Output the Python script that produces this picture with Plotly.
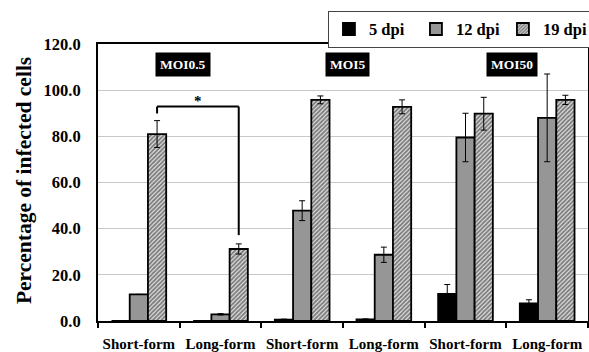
import plotly.graph_objects as go

categories = ["Short-form", "Long-form", "Short-form ", "Long-form ", "Short-form  ", "Long-form  "]
tick_labels = ["Short-form", "Long-form", "Short-form", "Long-form", "Short-form", "Long-form"]

dpi5 = [0, 0, 0.6, 0.7, 11.7, 7.6]
dpi5_err = [None, None, 0.2, 0.2, 4.1, 1.6]
dpi12 = [11.5, 2.9, 47.8, 28.7, 79.5, 88.0]
dpi12_err = [None, 0.3, 4.3, 3.3, 10.5, 19.0]
dpi19 = [81.0, 31.2, 95.8, 92.8, 89.8, 95.8]
dpi19_err = [5.8, 2.2, 1.7, 3.0, 7.1, 2.0]

moi_labels = ["MOI0.5", "MOI5", "MOI50"]
moi_x = [0.545, 2.56, 4.57]
moi_y = 111

sig_pair = (0, 1)
sig_top = 92.9
sig_left_end = 89.9
sig_right_end = 37.2

FONT = "Liberation Serif"
bargap = 0.33
bar_w = (1 - bargap) / 3

fig = go.Figure()
err_style = dict(type="data", color="black", thickness=1, width=3, visible=True)
line_style = dict(color="black", width=1.8)

fig.add_trace(go.Bar(name="5 dpi", x=categories, y=dpi5,
                     marker=dict(color="black", line=line_style),
                     error_y=dict(array=dpi5_err, **err_style)))
fig.add_trace(go.Bar(name="12 dpi", x=categories, y=dpi12,
                     marker=dict(color="#969696", line=line_style),
                     error_y=dict(array=dpi12_err, **err_style)))
fig.add_trace(go.Bar(name="19 dpi", x=categories, y=dpi19,
                     marker=dict(color="white", line=line_style,
                                 pattern=dict(shape="/", fgcolor="#111111", bgcolor="#e2e2e2",
                                              size=3, solidity=0.6)),
                     error_y=dict(array=dpi19_err, **err_style)))

# significance bracket between the 19 dpi bars of the first two categories
xl = sig_pair[0] + bar_w
xr = sig_pair[1] + bar_w
bline = dict(color="black", width=2)
fig.add_shape(type="line", xref="x", yref="y", x0=xl, x1=xr, y0=sig_top, y1=sig_top, line=bline)
fig.add_shape(type="line", xref="x", yref="y", x0=xl, x1=xl, y0=sig_top, y1=sig_left_end, line=bline)
fig.add_shape(type="line", xref="x", yref="y", x0=xr, x1=xr, y0=sig_top, y1=sig_right_end, line=bline)
fig.add_annotation(x=(xl + xr) / 2, y=sig_top, text="*", showarrow=False, yanchor="bottom",
                   font=dict(family=FONT, size=15, color="black", weight="bold"), yshift=-4)

for lab, mx in zip(moi_labels, moi_x):
    fig.add_annotation(x=mx, y=moi_y, xref="x", yref="y", text=lab, showarrow=False,
                       bgcolor="black", borderpad=4,
                       font=dict(family=FONT, size=13.5, color="white", weight="bold"))

# y axis title
fig.add_annotation(xref="paper", yref="paper", x=0, y=0.505, xshift=-74, textangle=-90,
                   xanchor="center", yanchor="middle",
                   text="Percentage of infected cells", showarrow=False,
                   font=dict(family=FONT, size=21.5, color="black", weight="bold"))

fig.update_layout(
    width=589, height=352,
    margin=dict(l=98, r=1, t=44, b=31, autoexpand=False),
    paper_bgcolor="white", plot_bgcolor="white",
    barmode="group", bargap=bargap, bargroupgap=0,
    font=dict(family=FONT, color="black"),
    showlegend=True,
    legend=dict(orientation="h", x=1.006, xanchor="right", y=1.12, yanchor="top",
                bordercolor="#444444", borderwidth=1, bgcolor="white",
                font=dict(family=FONT, size=16.5, color="black", weight="bold"),
                itemwidth=30, tracegroupgap=0, entrywidth=42),
)
fig.update_xaxes(
    type="category", tickvals=categories, ticktext=tick_labels, tickangle=0, automargin=False,
    showline=True, linecolor="black", linewidth=2, mirror=True,
    ticks="outside", tickson="boundaries", ticklen=5, tickwidth=2, tickcolor="black",
    ticklabelstandoff=8,
    tickfont=dict(family=FONT, size=15, color="black", weight="bold"),
    showgrid=False,
)
fig.update_yaxes(
    range=[0, 120], dtick=20, tickformat=".1f", automargin=False,
    showline=True, linecolor="black", linewidth=2, mirror=True,
    showgrid=True, gridcolor="#c8c8c8", gridwidth=1,
    ticks="", ticklabelstandoff=12,
    tickfont=dict(family=FONT, size=16.5, color="black", weight="bold"),
    zeroline=False,
)

fig.write_html("out.html")
